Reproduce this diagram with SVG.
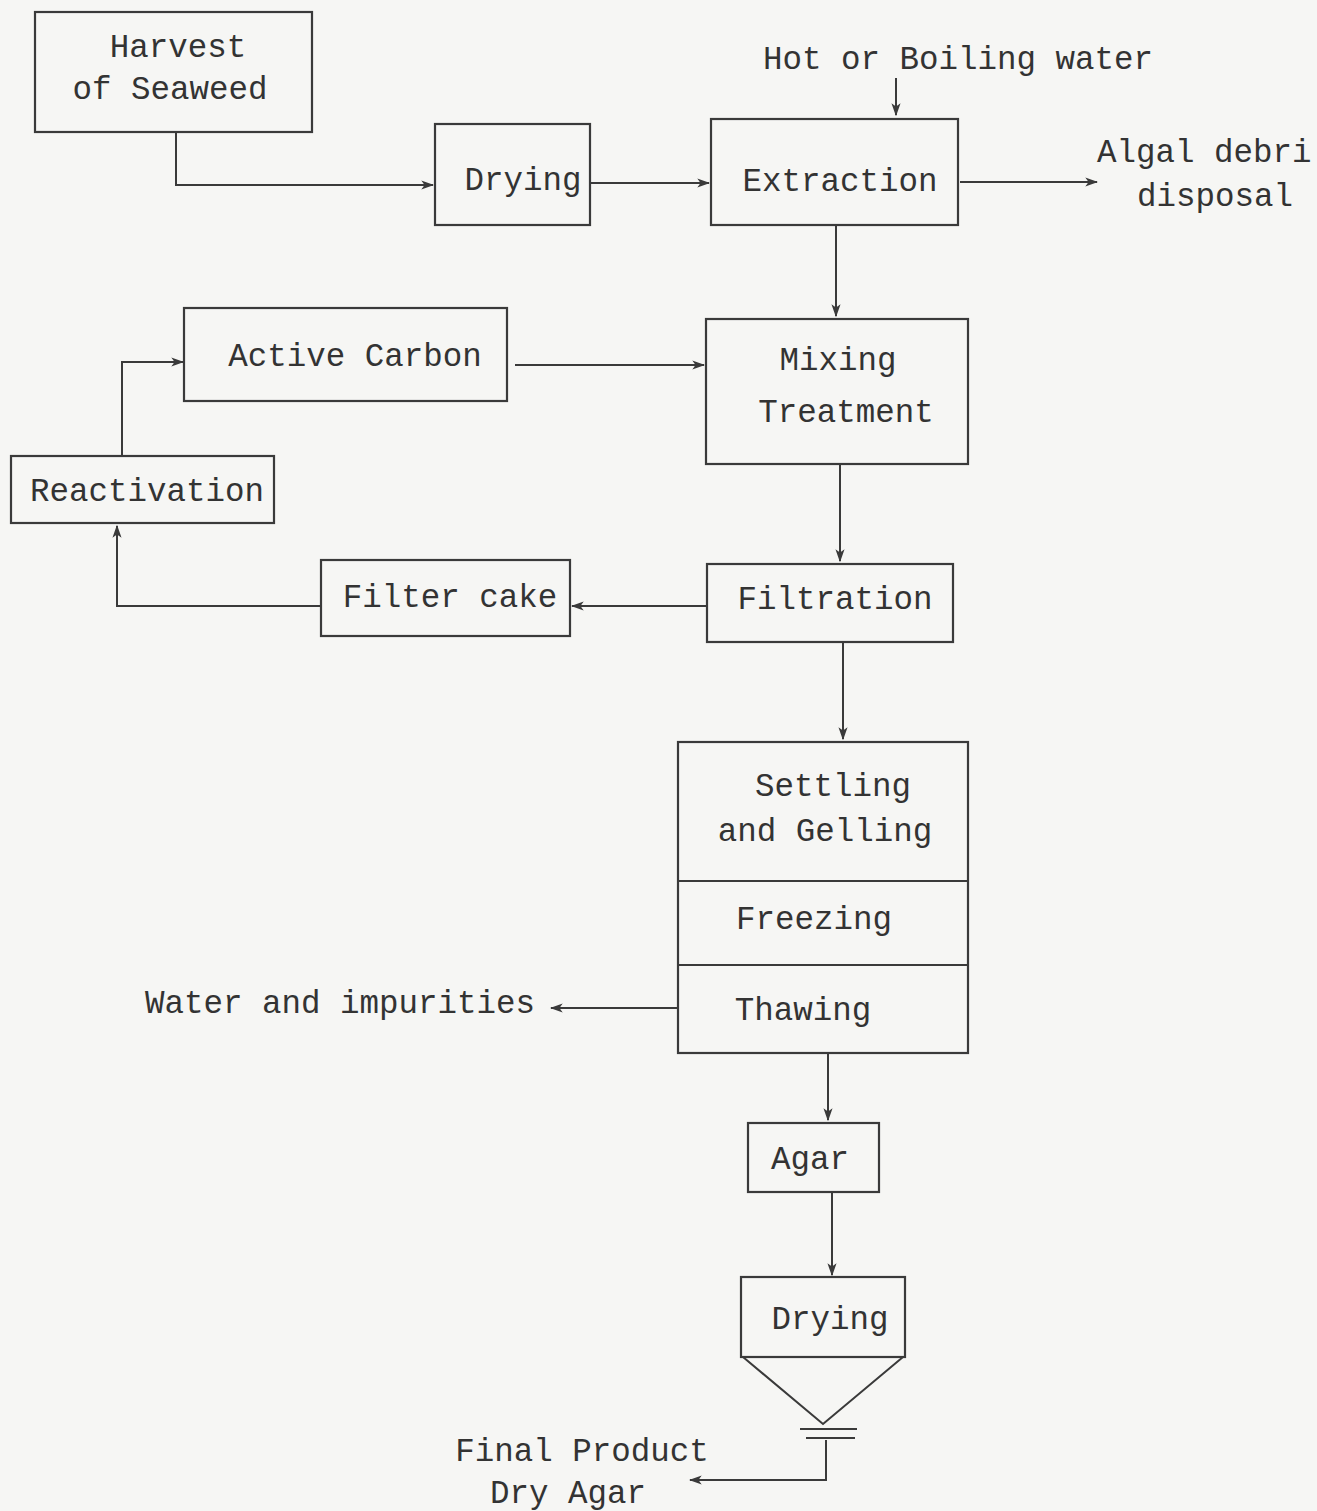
<svg xmlns="http://www.w3.org/2000/svg" width="1317" height="1511" viewBox="0 0 1317 1511">
<style>
.box{fill:none;stroke:#3a3a3a;stroke-width:2.2}
.ln{fill:none;stroke:#3a3a3a;stroke-width:2}
.t{font-family:"Liberation Mono","DejaVu Sans Mono",monospace;font-size:32.5px;fill:#333;text-anchor:middle;dominant-baseline:central}
.ts{text-anchor:start}
</style>
<defs>
<marker id="ah" viewBox="0 0 10 10" refX="9" refY="5" markerWidth="13" markerHeight="13" orient="auto" markerUnits="userSpaceOnUse">
<path d="M0,1.5 L10,5 L0,8.5 L2.5,5 Z" fill="#3a3a3a"/>
</marker>
</defs>
<rect width="1317" height="1511" fill="#f6f6f4"/>
<g id="connectors">
<path class="ln" d="M176,132 V185 H433" marker-end="url(#ah)"/>
<path class="ln" d="M590,183 H709" marker-end="url(#ah)"/>
<path class="ln" d="M896,78 V115" marker-end="url(#ah)"/>
<path class="ln" d="M960,182 H1097" marker-end="url(#ah)"/>
<path class="ln" d="M836,225 V316" marker-end="url(#ah)"/>
<path class="ln" d="M515,365 H704" marker-end="url(#ah)"/>
<path class="ln" d="M122,456 V362 H183" marker-end="url(#ah)"/>
<path class="ln" d="M840,464 V561" marker-end="url(#ah)"/>
<path class="ln" d="M707,606 H572" marker-end="url(#ah)"/>
<path class="ln" d="M321,606 H117 V526" marker-end="url(#ah)"/>
<path class="ln" d="M843,642 V739" marker-end="url(#ah)"/>
<path class="ln" d="M678,1008 H551" marker-end="url(#ah)"/>
<path class="ln" d="M828,1053 V1120" marker-end="url(#ah)"/>
<path class="ln" d="M832,1192 V1275" marker-end="url(#ah)"/>
<path class="ln" d="M826,1440 V1480 H690" marker-end="url(#ah)"/>
</g>
<g id="harvest"><rect class="box" x="35" y="12" width="277" height="120"/>
<text class="t" x="178" y="48">Harvest</text><text class="t" x="170" y="90">of Seaweed</text></g>
<g id="drying1"><rect class="box" x="435" y="124" width="155" height="101"/>
<text class="t" x="523" y="181">Drying</text></g>
<g id="extraction"><rect class="box" x="711" y="119" width="247" height="106"/>
<text class="t" x="840" y="182">Extraction</text></g>
<g id="hotwater"><text class="t" x="958" y="60">Hot or Boiling water</text></g>
<g id="algal"><text class="t ts" x="1097" y="153">Algal debri</text><text class="t ts" x="1137" y="197">disposal</text></g>
<g id="mixing"><rect class="box" x="706" y="319" width="262" height="145"/>
<text class="t" x="838" y="361">Mixing</text><text class="t" x="846" y="413">Treatment</text></g>
<g id="activecarbon"><rect class="box" x="184" y="308" width="323" height="93"/>
<text class="t" x="355" y="357">Active Carbon</text></g>
<g id="reactivation"><rect class="box" x="11" y="456" width="263" height="67"/>
<text class="t" x="147" y="492">Reactivation</text></g>
<g id="filtration"><rect class="box" x="707" y="564" width="246" height="78"/>
<text class="t" x="835" y="600">Filtration</text></g>
<g id="filtercake"><rect class="box" x="321" y="560" width="249" height="76"/>
<text class="t" x="450" y="598">Filter cake</text></g>
<g id="settling"><rect class="box" x="678" y="742" width="290" height="311"/>
<line class="box" x1="678" y1="881" x2="968" y2="881"/>
<line class="box" x1="678" y1="965" x2="968" y2="965"/>
<text class="t" x="833" y="787">Settling</text><text class="t" x="825" y="832">and Gelling</text>
<text class="t" x="814" y="920">Freezing</text><text class="t" x="803" y="1011">Thawing</text></g>
<g id="water"><text class="t" x="340" y="1004">Water and impurities</text></g>
<g id="agar"><rect class="box" x="748" y="1123" width="131" height="69"/>
<text class="t" x="810" y="1160">Agar</text></g>
<g id="drying2"><rect class="box" x="741" y="1277" width="164" height="80"/>
<text class="t" x="830" y="1320">Drying</text>
<path class="ln" d="M743,1357 L823,1424 L903,1357"/>
<line class="ln" x1="800" y1="1429" x2="857" y2="1429"/>
<line class="ln" x1="806" y1="1438" x2="855" y2="1438"/></g>
<g id="final"><text class="t" x="582" y="1452">Final Product</text><text class="t" x="568" y="1494">Dry Agar</text></g>
</svg>
